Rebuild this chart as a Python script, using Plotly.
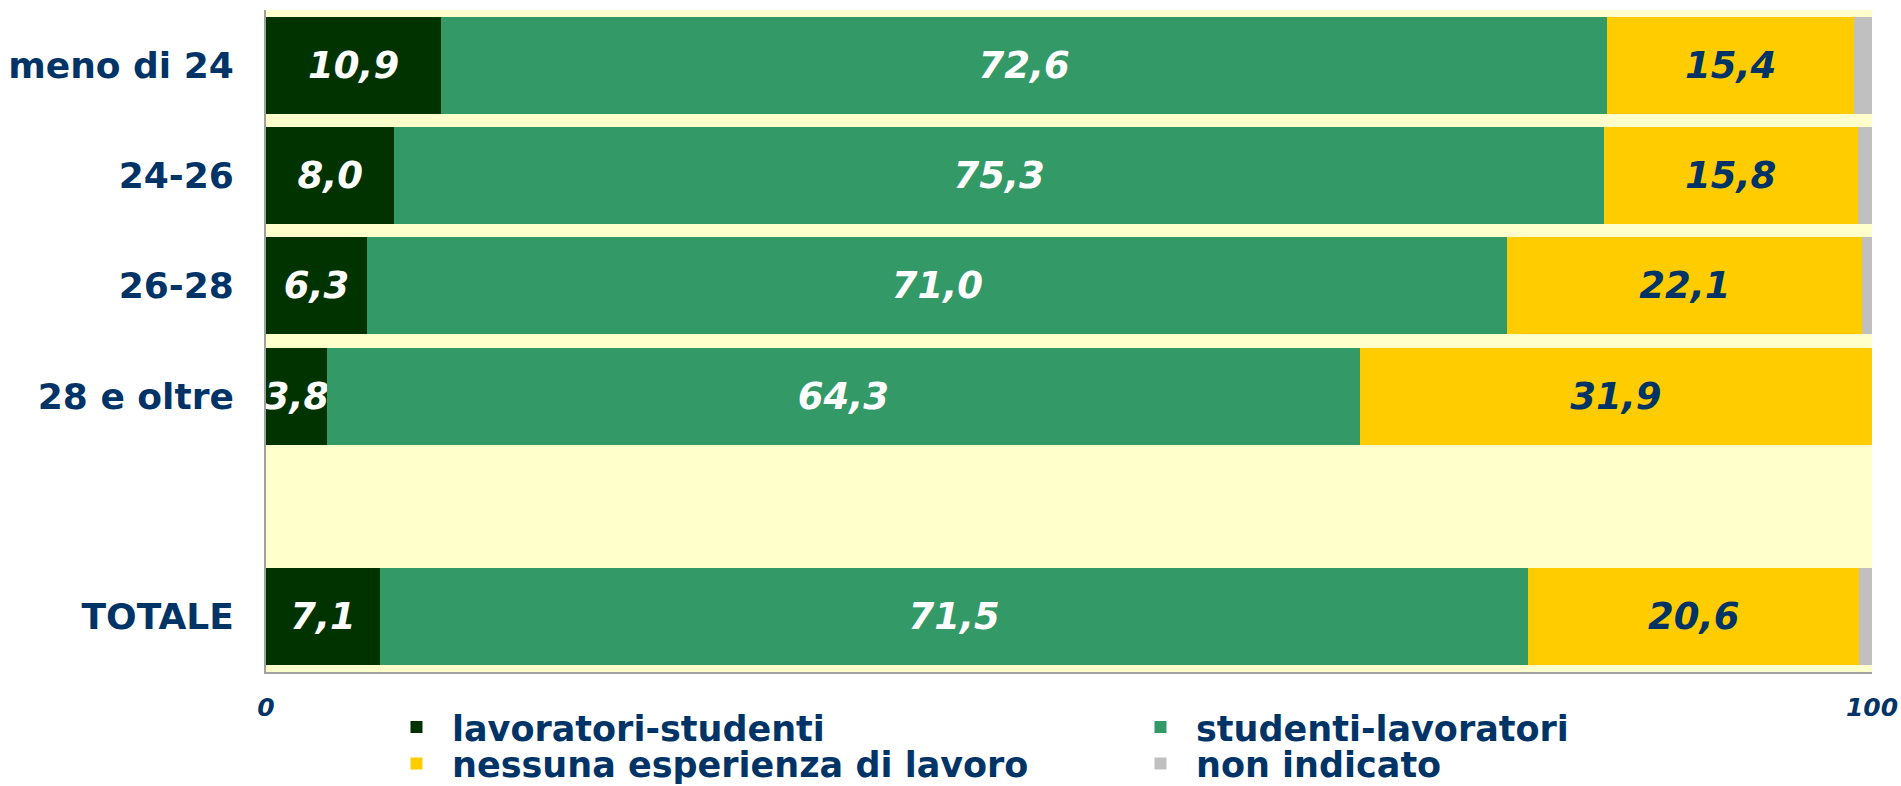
import plotly.graph_objects as go

categories = ["meno di 24", "24-26", "26-28", "28 e oltre", "TOTALE"]
axis_order = ["meno di 24", "24-26", "26-28", "28 e oltre", " ", "TOTALE"]

lavoratori_studenti = [10.9, 8.0, 6.3, 3.8, 7.1]
studenti_lavoratori = [72.6, 75.3, 71.0, 64.3, 71.5]
nessuna_esperienza = [15.4, 15.8, 22.1, 31.9, 20.6]
non_indicato = [1.1, 0.9, 0.6, 0.0, 0.8]

x_ticks = [0, 100]

NAVY = "#003366"
FONT = "DejaVu Sans"

series = [
    ("lavoratori-studenti", lavoratori_studenti, "#003300", "white", True, "legend"),
    ("studenti-lavoratori", studenti_lavoratori, "#339966", "white", True, "legend"),
    ("nessuna esperienza di lavoro", nessuna_esperienza, "#FFCC00", NAVY, True, "legend2"),
    ("non indicato", non_indicato, "#C0C0C0", NAVY, False, "legend2"),
]

fig = go.Figure()
for name, vals, color, tcolor, show_text, leg in series:
    fig.add_trace(go.Bar(
        name=name,
        y=categories,
        x=vals,
        orientation="h",
        legend=leg,
        marker=dict(color=color, line=dict(width=0)),
        texttemplate="%{x:.1f}" if show_text else None,
        textposition="inside" if show_text else "none",
        insidetextanchor="middle",
        textangle=0,
        textfont=dict(family=FONT, size=37, color=tcolor, weight="bold", style="italic"),
        cliponaxis=True,
        hoverinfo="x+y+name",
    ))

legend_common = dict(
    orientation="h",
    x=0.0716, xanchor="left",
    yanchor="middle",
    entrywidth=668,
    entrywidthmode="pixels",
    itemwidth=61,
    traceorder="normal",
    font=dict(family=FONT, size=35, color=NAVY, weight="bold"),
    bgcolor="rgba(0,0,0,0)",
    itemclick=False,
    itemdoubleclick=False,
)

fig.update_layout(
    barmode="stack",
    bargap=0.12,
    separators=",.",
    width=1901,
    height=786,
    margin=dict(l=266, r=29, t=10, b=114, autoexpand=False),
    paper_bgcolor="white",
    plot_bgcolor="#FFFFCC",
    uniformtext=dict(minsize=37, mode="show"),
    font=dict(family=FONT, color=NAVY),
    legend=dict(legend_common, y=-0.0835),
    legend2=dict(legend_common, y=-0.1385),
    xaxis=dict(
        range=[0, 100],
        tickvals=x_ticks,
        ticktext=[str(v) for v in x_ticks],
        ticks="",
        showgrid=False,
        zeroline=False,
        showline=True,
        linecolor="#A0A0A0",
        linewidth=2,
        automargin=False,
        ticklabeloverflow="allow",
        ticklabelstandoff=12,
        tickfont=dict(family=FONT, size=25, color=NAVY, weight="bold", style="italic"),
        fixedrange=True,
    ),
    yaxis=dict(
        categoryorder="array",
        categoryarray=axis_order,
        tickvals=axis_order,
        range=[5.5, -0.5],
        ticks="",
        showgrid=False,
        zeroline=False,
        showline=True,
        linecolor="#A0A0A0",
        linewidth=2,
        automargin=False,
        ticklabelstandoff=23,
        tickfont=dict(family=FONT, size=36, color=NAVY, weight="bold"),
        fixedrange=True,
    ),
)

# remove the default page margin so the figure fills the window exactly
fig.write_html(
    "out.html",
    config={"displayModeBar": False},
    post_script="document.body.style.margin='0';document.body.style.overflow='hidden';",
)
